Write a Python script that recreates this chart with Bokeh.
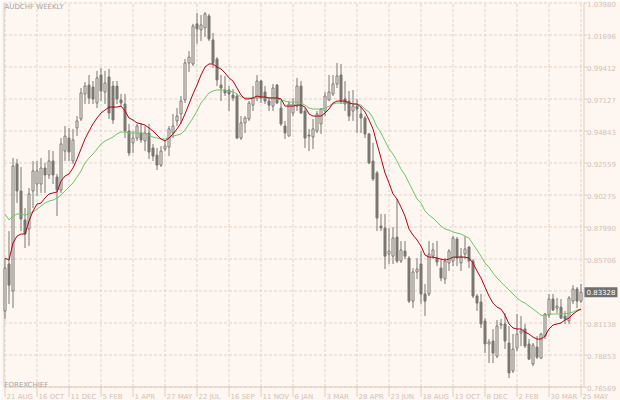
from bokeh.plotting import figure
from bokeh.models import ColumnDataSource, Range1d, Label
from bokeh.core.properties import value
from bokeh.embed import file_html
from bokeh.resources import INLINE

# ---------------- data (AUDCHF weekly) ----------------
opens = [0.8199, 0.8535, 0.8342, 0.9249, 0.9056, 0.8849, 0.8785, 0.9056, 0.9106, 0.9106,
         0.9220, 0.9170, 0.9270, 0.9156, 0.9063, 0.9341, 0.9434, 0.9270, 0.9506, 0.9570,
         0.9749, 0.9812, 0.9798, 0.9684, 0.9884, 0.9763, 0.9870, 0.9805, 0.9805, 0.9706,
         0.9677, 0.9484, 0.9399, 0.9434, 0.9470, 0.9413, 0.9470, 0.9363, 0.9312, 0.9241,
         0.9356, 0.9370, 0.9470, 0.9556, 0.9606, 0.9706, 0.9970, 0.9963, 1.0249, 1.0206,
         1.0220, 1.0305, 1.0134, 0.9998, 0.9812, 0.9777, 0.9777, 0.9741, 0.9734, 0.9434,
         0.9542, 0.9570, 0.9669, 0.9720, 0.9841, 0.9763, 0.9698, 0.9662, 0.9812, 0.9648,
         0.9520, 0.9448, 0.9613, 0.9662, 0.9805, 0.9627, 0.9455, 0.9441, 0.9484, 0.9535,
         0.9627, 0.9706, 0.9749, 0.9820, 0.9884, 0.9713, 0.9698, 0.9627, 0.9662, 0.9606,
         0.9577, 0.9463, 0.9270, 0.9185, 0.8806, 0.8792, 0.8606, 0.8591, 0.8727, 0.8556,
         0.8627, 0.8577, 0.8270, 0.8478, 0.8535, 0.8321, 0.8321, 0.8591, 0.8577, 0.8506,
         0.8428, 0.8542, 0.8556, 0.8713, 0.8542, 0.8606, 0.8656, 0.8556, 0.8306, 0.8263,
         0.8128, 0.7964, 0.7985, 0.7877, 0.8099, 0.8107, 0.7971, 0.7771, 0.7935, 0.8042,
         0.8071, 0.7964, 0.7821, 0.7942, 0.7863, 0.8020, 0.8170, 0.8285, 0.8220, 0.8227,
         0.8163, 0.8128, 0.8270, 0.8356, 0.8270]

highs = [0.8577, 0.8770, 0.9291, 0.9284, 0.9227, 0.8934, 0.9077, 0.9270, 0.9270, 0.9291,
         0.9256, 0.9349, 0.9341, 0.9178, 0.9434, 0.9520, 0.9506, 0.9499, 0.9591, 0.9791,
         0.9834, 0.9884, 0.9841, 0.9913, 0.9934, 0.9913, 0.9927, 0.9841, 0.9841, 0.9749,
         0.9749, 0.9535, 0.9484, 0.9535, 0.9542, 0.9520, 0.9535, 0.9392, 0.9363, 0.9377,
         0.9413, 0.9520, 0.9606, 0.9648, 0.9734, 0.9998, 1.0055, 1.0249, 1.0327, 1.0312,
         1.0334, 1.0320, 1.0184, 1.0012, 0.9884, 0.9877, 0.9805, 0.9784, 0.9749, 0.9591,
         0.9591, 0.9698, 0.9805, 0.9884, 0.9849, 0.9805, 0.9720, 0.9820, 0.9820, 0.9698,
         0.9556, 0.9698, 0.9720, 0.9863, 0.9841, 0.9648, 0.9499, 0.9570, 0.9627, 0.9648,
         0.9763, 0.9884, 0.9884, 0.9970, 0.9963, 0.9841, 0.9770, 0.9777, 0.9713, 0.9662,
         0.9591, 0.9470, 0.9399, 0.9199, 0.8892, 0.8892, 0.8792, 0.8799, 0.8999, 0.8699,
         0.8699, 0.8591, 0.8506, 0.8577, 0.8627, 0.8392, 0.8699, 0.8685, 0.8699, 0.8570,
         0.8577, 0.8642, 0.8734, 0.8727, 0.8649, 0.8734, 0.8663, 0.8570, 0.8321, 0.8321,
         0.8149, 0.7999, 0.8071, 0.8135, 0.8142, 0.8185, 0.8092, 0.8035, 0.8178, 0.8163,
         0.8107, 0.7999, 0.7971, 0.8020, 0.8042, 0.8185, 0.8321, 0.8321, 0.8292, 0.8285,
         0.8199, 0.8306, 0.8384, 0.8370, 0.8392]

lows = [0.8142, 0.8249, 0.8220, 0.8970, 0.8770, 0.8649, 0.8663, 0.8934, 0.9020, 0.9042,
        0.9042, 0.9142, 0.9106, 0.8877, 0.9042, 0.9270, 0.9270, 0.9249, 0.9448, 0.9556,
        0.9677, 0.9677, 0.9677, 0.9648, 0.9698, 0.9677, 0.9570, 0.9535, 0.9677, 0.9662,
        0.9434, 0.9305, 0.9327, 0.9413, 0.9399, 0.9341, 0.9284, 0.9270, 0.9206, 0.9227,
        0.9341, 0.9305, 0.9434, 0.9520, 0.9535, 0.9684, 0.9906, 0.9948, 1.0106, 1.0127,
        1.0155, 1.0127, 0.9934, 0.9805, 0.9698, 0.9734, 0.9627, 0.9698, 0.9427, 0.9420,
        0.9470, 0.9556, 0.9627, 0.9698, 0.9684, 0.9677, 0.9627, 0.9627, 0.9677, 0.9520,
        0.9427, 0.9448, 0.9591, 0.9627, 0.9606, 0.9363, 0.9341, 0.9356, 0.9470, 0.9463,
        0.9591, 0.9698, 0.9734, 0.9791, 0.9677, 0.9627, 0.9556, 0.9556, 0.9470, 0.9470,
        0.9434, 0.9249, 0.9127, 0.8770, 0.8770, 0.8499, 0.8535, 0.8535, 0.8542, 0.8542,
        0.8570, 0.8256, 0.8220, 0.8428, 0.8249, 0.8163, 0.8306, 0.8570, 0.8520, 0.8413,
        0.8392, 0.8485, 0.8520, 0.8520, 0.8485, 0.8570, 0.8506, 0.8292, 0.8199, 0.8078,
        0.7899, 0.7828, 0.7828, 0.7863, 0.8071, 0.7928, 0.7721, 0.7757, 0.7913, 0.7949,
        0.7935, 0.7849, 0.7806, 0.7856, 0.7856, 0.7999, 0.8149, 0.8199, 0.8185, 0.8142,
        0.8107, 0.8107, 0.8249, 0.8220, 0.8256]

closes = [0.8506, 0.8384, 0.9234, 0.9056, 0.8856, 0.8749, 0.9035, 0.9199, 0.9199, 0.9220,
          0.9170, 0.9270, 0.9170, 0.9063, 0.9392, 0.9448, 0.9334, 0.9420, 0.9556, 0.9756,
          0.9805, 0.9720, 0.9713, 0.9863, 0.9770, 0.9827, 0.9613, 0.9563, 0.9713, 0.9684,
          0.9484, 0.9327, 0.9434, 0.9520, 0.9420, 0.9470, 0.9334, 0.9305, 0.9241, 0.9341,
          0.9377, 0.9499, 0.9520, 0.9591, 0.9698, 0.9970, 1.0012, 1.0234, 1.0213, 1.0241,
          1.0320, 1.0141, 0.9970, 0.9849, 0.9791, 0.9756, 0.9749, 0.9720, 0.9434, 0.9542,
          0.9577, 0.9684, 0.9720, 0.9841, 0.9720, 0.9698, 0.9669, 0.9791, 0.9684, 0.9535,
          0.9470, 0.9677, 0.9677, 0.9805, 0.9613, 0.9434, 0.9448, 0.9499, 0.9606, 0.9641,
          0.9734, 0.9763, 0.9820, 0.9877, 0.9698, 0.9677, 0.9591, 0.9662, 0.9641, 0.9577,
          0.9463, 0.9256, 0.9142, 0.8863, 0.8792, 0.8591, 0.8627, 0.8720, 0.8556, 0.8635,
          0.8591, 0.8270, 0.8478, 0.8499, 0.8321, 0.8270, 0.8606, 0.8635, 0.8549, 0.8435,
          0.8556, 0.8627, 0.8720, 0.8577, 0.8591, 0.8642, 0.8556, 0.8306, 0.8256, 0.8107,
          0.7964, 0.7978, 0.7899, 0.8092, 0.8107, 0.7985, 0.7757, 0.7928, 0.8035, 0.8056,
          0.7949, 0.7856, 0.7956, 0.7870, 0.8035, 0.8178, 0.8285, 0.8206, 0.8234, 0.8149,
          0.8142, 0.8292, 0.8356, 0.8270, 0.83328]

ma_fast = [0.8577, 0.8563, 0.8685, 0.8734, 0.8749, 0.8749, 0.8842, 0.8913, 0.8963, 0.8970,
           0.9006, 0.9035, 0.9042, 0.9049, 0.9127, 0.9163, 0.9178, 0.9220, 0.9284, 0.9356,
           0.9427, 0.9484, 0.9535, 0.9577, 0.9613, 0.9634, 0.9655, 0.9655, 0.9655, 0.9662,
           0.9627, 0.9577, 0.9563, 0.9542, 0.9535, 0.9527, 0.9506, 0.9484, 0.9455, 0.9427,
           0.9413, 0.9434, 0.9463, 0.9499, 0.9542, 0.9606, 0.9677, 0.9749, 0.9812, 0.9884,
           0.9941, 0.9963, 0.9963, 0.9941, 0.9927, 0.9899, 0.9863, 0.9841, 0.9791, 0.9741,
           0.9713, 0.9713, 0.9720, 0.9734, 0.9727, 0.9727, 0.9720, 0.9720, 0.9720, 0.9713,
           0.9662, 0.9662, 0.9662, 0.9669, 0.9669, 0.9655, 0.9606, 0.9591, 0.9591, 0.9591,
           0.9613, 0.9641, 0.9684, 0.9698, 0.9698, 0.9698, 0.9684, 0.9677, 0.9677, 0.9655,
           0.9620, 0.9563, 0.9499, 0.9392, 0.9291, 0.9185, 0.9113, 0.9035, 0.8999, 0.8941,
           0.8877, 0.8785, 0.8742, 0.8706, 0.8663, 0.8599, 0.8584, 0.8584, 0.8577, 0.8570,
           0.8563, 0.8570, 0.8584, 0.8584, 0.8584, 0.8584, 0.8577, 0.8542, 0.8485, 0.8435,
           0.8370, 0.8306, 0.8256, 0.8227, 0.8213, 0.8170, 0.8107, 0.8078, 0.8071, 0.8071,
           0.8049, 0.8035, 0.8013, 0.7999, 0.7999, 0.8020, 0.8071, 0.8099, 0.8107, 0.8114,
           0.8135, 0.8149, 0.8178, 0.8199, 0.8213]

ma_slow = [0.8892, 0.8849, 0.8877, 0.8892, 0.8892, 0.8884, 0.8892, 0.8906, 0.8927, 0.8949,
           0.8970, 0.8984, 0.8991, 0.9006, 0.9027, 0.9056, 0.9084, 0.9113, 0.9156, 0.9199,
           0.9256, 0.9291, 0.9320, 0.9356, 0.9392, 0.9413, 0.9427, 0.9441, 0.9463, 0.9477,
           0.9477, 0.9470, 0.9470, 0.9470, 0.9470, 0.9470, 0.9455, 0.9441, 0.9434, 0.9427,
           0.9427, 0.9434, 0.9448, 0.9455, 0.9463, 0.9491, 0.9535, 0.9577, 0.9627, 0.9684,
           0.9720, 0.9756, 0.9770, 0.9777, 0.9777, 0.9777, 0.9770, 0.9763, 0.9749, 0.9727,
           0.9720, 0.9720, 0.9720, 0.9720, 0.9720, 0.9720, 0.9720, 0.9720, 0.9713, 0.9706,
           0.9698, 0.9691, 0.9691, 0.9691, 0.9684, 0.9669, 0.9648, 0.9641, 0.9641, 0.9641,
           0.9648, 0.9662, 0.9677, 0.9684, 0.9684, 0.9684, 0.9684, 0.9677, 0.9677, 0.9669,
           0.9641, 0.9620, 0.9577, 0.9513, 0.9470, 0.9413, 0.9356, 0.9320, 0.9270, 0.9213,
           0.9170, 0.9113, 0.9056, 0.8999, 0.8970, 0.8913, 0.8884, 0.8863, 0.8835, 0.8806,
           0.8785, 0.8777, 0.8763, 0.8756, 0.8749, 0.8734, 0.8720, 0.8677, 0.8635, 0.8591,
           0.8542, 0.8513, 0.8470, 0.8435, 0.8406, 0.8377, 0.8349, 0.8321, 0.8292, 0.8270,
           0.8256, 0.8234, 0.8213, 0.8192, 0.8170, 0.8163, 0.8178, 0.8178, 0.8178, 0.8178,
           0.8178, 0.8185, 0.8192, 0.8206, 0.8213]

date_labels = ["21 AUG", "16 OCT", "11 DEC", "5 FEB", "1 APR", "27 MAY", "22 JUL",
               "16 SEP", "11 NOV", "6 JAN", "3 MAR", "28 APR", "23 JUN", "18 AUG",
               "13 OCT", "8 DEC", "2 FEB", "30 MAR", "25 MAY"]
price_ticks = [1.03980, 1.01696, 0.99412, 0.97127, 0.94843, 0.92559, 0.90275,
               0.87990, 0.85706, 0.83422, 0.81138, 0.78853, 0.76569]
last_price = 0.83328
title_text = "AUDCHF WEEKLY"
brand_text = "FOREXCHIEF"

# ---------------- style / layout ----------------
BG = "#FEF7F1"
AXIS_C = "#DCCBC0"
LABEL_C = "#D3C1B5"
GRID_C = "#E0D2C8"
CANDLE = "#7A7673"
RED = "#B0001C"
GREEN = "#6CC46C"
FONT = "DejaVu Sans"
FS = "7px"
W, H = 620, 400
BAR_PX = 4.0                       # pixels per weekly bar
ymin, ymax = min(price_ticks), max(price_ticks)
per_px = (ymax - ymin) / 384.0     # price per pixel of the price scale

n = len(opens)
idx = list(range(n))
xl, xr = -0.25, n - 0.25           # chart area edges (in bar units)
tick_idx = list(range(0, n, 8))

bull = [c >= o for o, c in zip(opens, closes)]
src = ColumnDataSource(dict(
    x=idx, high=highs, low=lows,
    top=[max(o, c) for o, c in zip(opens, closes)],
    bottom=[min(o, c) for o, c in zip(opens, closes)],
    fill=[BG if b else CANDLE for b in bull],
    fast=ma_fast, slow=ma_slow,
))

x0 = -4.5 / BAR_PX
p = figure(width=W, height=H,
           x_range=Range1d(x0, x0 + W / BAR_PX),
           y_range=Range1d(ymin - 13.5 * per_px, ymax + 2.5 * per_px),
           output_backend="svg", toolbar_location=None,
           x_axis_location=None, y_axis_location=None, min_border=0)
p.background_fill_color = BG
p.border_fill_color = BG
p.outline_line_color = None
p.grid.visible = False

k_y, k_x = len(price_ticks), len(tick_idx)
# dashed grid
p.segment(x0=tick_idx, y0=[ymin] * k_x, x1=tick_idx, y1=[ymax] * k_x,
          line_color=GRID_C, line_dash="3 2", line_width=1)
p.segment(x0=[xl] * k_y, y0=price_ticks, x1=[xr] * k_y, y1=price_ticks,
          line_color=GRID_C, line_dash="3 2", line_width=1)
# frame lines (left, bottom, right price scale)
p.segment(x0=[xl, xl, xr], y0=[ymin, ymin, ymin], x1=[xl, xr, xr], y1=[ymax, ymin, ymax],
          line_color=AXIS_C, line_width=1)
# price scale ticks and labels
p.segment(x0=[xr] * k_y, y0=price_ticks, x1=[xr + 3 / BAR_PX] * k_y, y1=price_ticks,
          line_color=AXIS_C, line_width=1)
price_txt = ["" if abs(t - last_price) < 0.002 else "%.5f" % t for t in price_ticks]
p.text(x=[xr] * k_y, y=price_ticks, text=price_txt, x_offset=3, y_offset=1,
       text_font=value(FONT), text_font_size=FS, text_color=LABEL_C,
       text_baseline="middle", text_align="left")
# time scale ticks and labels
p.segment(x0=tick_idx, y0=[ymin] * k_x, x1=tick_idx, y1=[ymin - 10 * per_px] * k_x,
          line_color=AXIS_C, line_width=1)
p.text(x=tick_idx, y=[ymin] * k_x, text=date_labels, x_offset=1.5, y_offset=10,
       text_font=value(FONT), text_font_size=FS, text_color=LABEL_C,
       text_baseline="alphabetic", text_align="left")

# candles
p.segment(x0="x", y0="low", x1="x", y1="high", source=src, line_color=CANDLE, line_width=1)
p.vbar(x="x", width=0.5, top="top", bottom="bottom", source=src,
       fill_color="fill", line_color=CANDLE, line_width=1)
# moving averages
p.line("x", "slow", source=src, line_color=GREEN, line_width=1)
p.line("x", "fast", source=src, line_color=RED, line_width=1)

p.add_layout(Label(x=4, y=H - 2.5, x_units="screen", y_units="screen", text=title_text,
                   text_font=FONT, text_font_size=FS, text_color="#A3A3A3",
                   text_baseline="top", text_align="left"))
p.add_layout(Label(x=4, y=H - 384.5, x_units="screen", y_units="screen", text=brand_text,
                   text_font=FONT, text_font_size=FS, text_color="#A3A3A3",
                   text_baseline="alphabetic", text_align="left"))
p.add_layout(Label(x=xr, y=last_price, x_offset=0.5, text="%.5f" % last_price,
                   text_font=FONT, text_font_size=FS, text_color="white",
                   text_baseline="middle", text_align="left",
                   background_fill_color="#6F6F6F", padding=2))

open("out.html", "w").write(file_html(p, INLINE))
